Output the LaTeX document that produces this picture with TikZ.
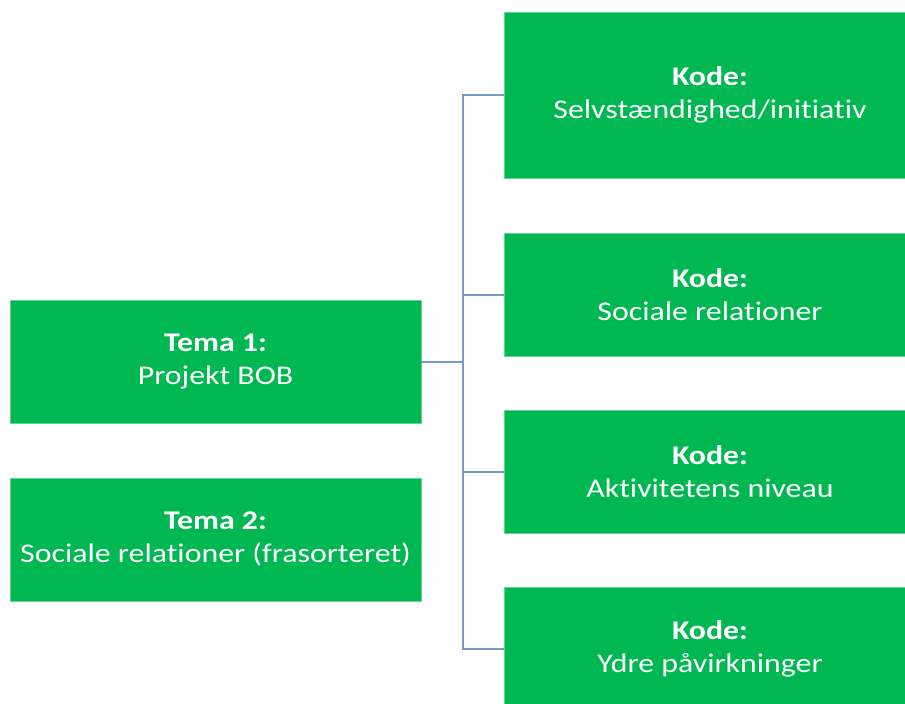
\documentclass[tikz,border=0pt]{standalone}
\usepackage{fontspec}
\setmainfont{Carlito}[FakeStretch=1.18,Ligatures=NoCommon]
\usepackage{tikz}
\usetikzlibrary{positioning}
\definecolor{boxcol}{RGB}{0,184,82}
\definecolor{linecol}{RGB}{118,153,197}

\begin{document}
\begin{tikzpicture}[x=1pt,y=-1pt,
  box/.style={fill=boxcol,draw=boxcol!60!white,line width=0.6pt,text=white,align=center,
    minimum width=411pt,minimum height=123pt,inner sep=0pt,
    font=\fontsize{27}{33}\selectfont},
  link/.style={draw=linecol,line width=2pt}]
\clip (0,0) rectangle (905,704);
\fill[white] (0,0) rectangle (905,704);
% themes
\node[box] (t1) at (215.5,361.5) {\textbf{Tema 1:}\\Projekt BOB};
\node[box] (t2) at (215.5,539.5) {\textbf{Tema 2:}\\Sociale relationer (frasorteret)};
% codes
\node[box,minimum height=166pt] (k1) at (710,95) {\textbf{Kode:}\\Selvstændighed/initiativ};
\node[box] (k2) at (710,295) {\textbf{Kode:}\\Sociale relationer};
\node[box] (k3) at (710,472) {\textbf{Kode:}\\Aktivitetens niveau};
\node[box] (k4) at (710,648.5) {\textbf{Kode:}\\Ydre påvirkninger};
% tree
\coordinate (hub) at (463,361.5);
\draw[link] (t1.east) -- (hub);
\foreach \k in {k1,k2,k3,k4}{
  \draw[link] (hub) |- (\k.west);
}
\end{tikzpicture}
\end{document}
